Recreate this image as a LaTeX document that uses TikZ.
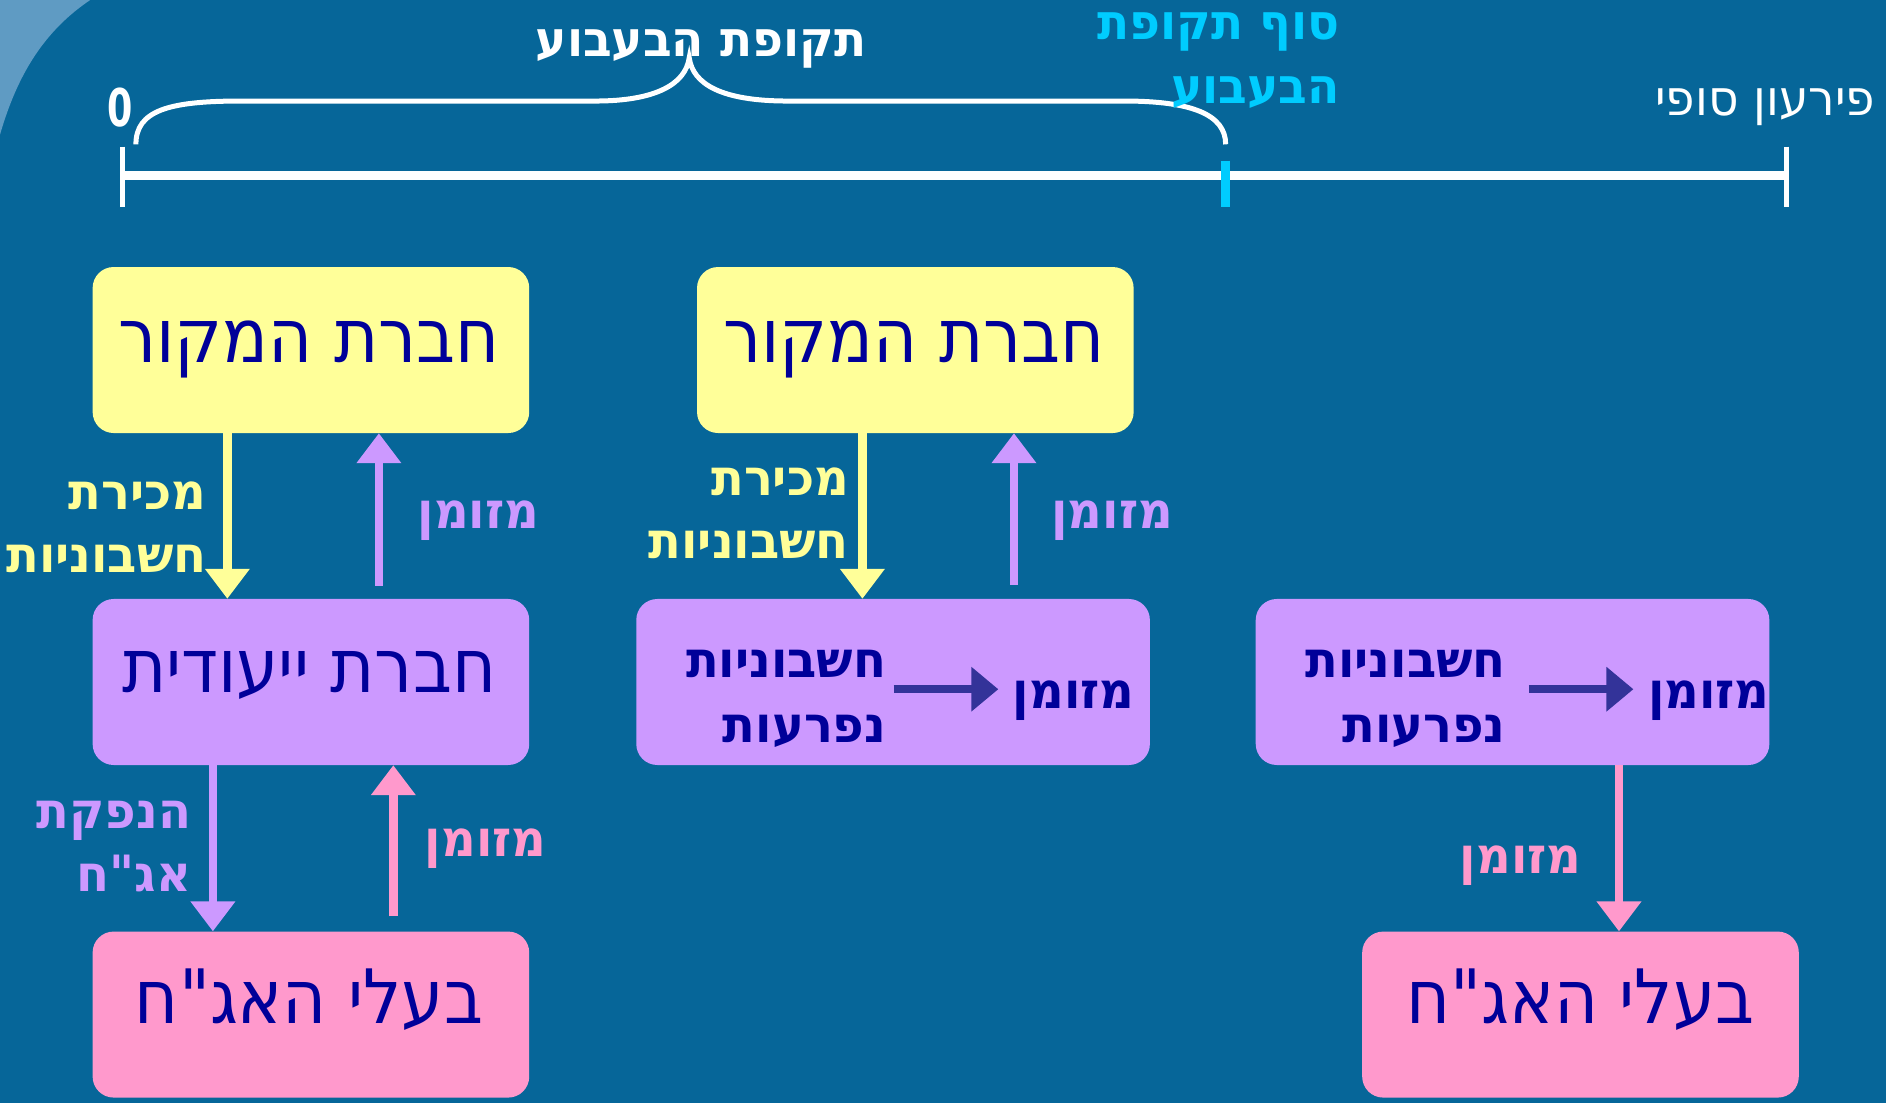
\documentclass[tikz,border=0pt]{standalone}
\usepackage{fontspec}
\usetikzlibrary{arrows.meta,calc}
\TeXXeTstate=1
\newfontfamily\heb[Script=Hebrew,FakeStretch=0.9]{DejaVu Sans}
\newfontfamily\hebl[Script=Hebrew,FakeStretch=0.96]{DejaVu Sans}
\newfontfamily\hebz[Script=Hebrew,FakeStretch=0.7]{DejaVu Sans}
\newcommand\hebtxt[1]{\beginR #1\endR}
\definecolor{bgblue}{RGB}{6,102,153}
\definecolor{bglight}{RGB}{95,155,195}
\definecolor{ybox}{RGB}{255,255,153}
\definecolor{pbox}{RGB}{204,153,255}
\definecolor{kbox}{RGB}{255,153,204}
\definecolor{navy}{RGB}{0,0,153}
\definecolor{darrow}{RGB}{51,51,153}
\definecolor{cyantxt}{RGB}{0,204,255}
\tikzset{
  boxbase/.style={rounded corners=21pt, minimum height=166pt, inner sep=0pt},
  ysq/.style={boxbase, fill=ybox, minimum width=436.6pt},
  psq/.style={boxbase, fill=pbox, minimum width=436.6pt},
  pwide/.style={boxbase, fill=pbox, minimum width=513.6pt},
  ksq/.style={boxbase, fill=kbox, minimum width=436.6pt},
  bigtxt/.style={inner sep=0pt, anchor=base, text=navy, font=\heb\fontsize{75}{84}\selectfont},
  lab/.style={inner sep=0pt, font=\hebl\bfseries\fontsize{50}{58}\selectfont},
  labR/.style={lab, anchor=base east},
  labL/.style={lab, anchor=base west},
  toptxt/.style={inner sep=0pt, font=\hebl\bfseries\fontsize{49}{56}\selectfont},
  bigarrow/.style={line width=8.5pt, -{Triangle[width=43pt,length=30pt]}},
  inarrow/.style={line width=8.5pt, darrow, -{Triangle[width=43pt,length=27pt]}},
}
\begin{document}
\begin{tikzpicture}[x=1.2028pt,y=-1.2028pt]
% background
\fill[bgblue] (0,0) rectangle (1568,917);
\useasboundingbox (0,0) rectangle (1568,917);
\fill[bglight] (0,0) -- (0,112) .. controls (15,60) and (38,25) .. (75,0) -- cycle;

% timeline
\coordinate (t0) at (102,146);
\coordinate (t1) at (1019,146);
\coordinate (t2) at (1485,146);
\draw[white, line width=8.5pt] (t0) -- (t2);
\draw[white, line width=5pt] ([yshift=29pt]t0) -- ([yshift=-31pt]t0);
\draw[white, line width=5pt] ([yshift=29pt]t2) -- ([yshift=-31pt]t2);
\draw[cyantxt, line width=9pt] ([yshift=15pt]t1) -- ([yshift=-31pt]t1);
% brace
\draw[white, line width=5pt] (113,120) .. controls (113,92) and (140,84) .. (200,84) -- (495,84) .. controls (545,84) and (570,70) .. (573,48) .. controls (576,70) and (600,84) .. (655,84) -- (935,84) .. controls (990,84) and (1019,95) .. (1019,120);
\node[toptxt, text=white, anchor=base] (period) at (583,47) {\hebtxt{תקופת הבעבוע}};
\node[inner sep=0pt, anchor=base, text=white, font=\hebz\bfseries\fontsize{52}{56}\selectfont] (zero) at (100,105) {0};
\node[toptxt, text=cyantxt, anchor=base east] (endp1) at (1114,33) {\hebtxt{סוף תקופת}};
\node[toptxt, text=cyantxt, anchor=base east] (endp2) at (1114,86) {\hebtxt{הבעבוע}};
\node[inner sep=0pt, text=white, anchor=base east, font=\hebl\fontsize{49}{56}\selectfont] (final) at (1559,96) {\hebtxt{פירעון סופי}};

% boxes
\node[ysq] (src1) at (258.5,291) {};
\node[psq] (spv1) at (258.5,567) {};
\node[ksq] (bond1) at (258.5,843.5) {};
\node[ysq] (src2) at (761,291) {};
\node[pwide] (spv2) at (742.5,567) {};
\node[pwide] (spv3) at (1257.5,567) {};
\node[ksq] (bond3) at (1314,843.5) {};

\node[bigtxt] (src1t) at (257,301) {\hebtxt{חברת המקור}};
\node[bigtxt] (src2t) at (760,301) {\hebtxt{חברת המקור}};
\node[bigtxt] (spv1t) at (257,576) {\hebtxt{חברת ייעודית}};
\node[bigtxt] (bond1t) at (257,851) {\hebtxt{בעלי האג"ח}};
\node[bigtxt] (bond3t) at (1314,851) {\hebtxt{בעלי האג"ח}};

% inside purple boxes
\node[labR, text=navy] (inv2a) at (737,563) {\hebtxt{חשבוניות}};
\node[labR, text=navy] (inv2b) at (737,617) {\hebtxt{נפרעות}};
\node[labL, text=navy] (cash2) at (842,589) {\hebtxt{מזומן}};
\coordinate (a2s) at (743,573);
\coordinate (a2e) at (830,573);
\draw[inarrow] (a2s) -- (a2e);
\node[labR, text=navy] (inv3a) at (1252,563) {\hebtxt{חשבוניות}};
\node[labR, text=navy] (inv3b) at (1252,617) {\hebtxt{נפרעות}};
\node[labL, text=navy] (cash3) at (1370,589) {\hebtxt{מזומן}};
\coordinate (a3s) at (1271,573);
\coordinate (a3e) at (1358,573);
\draw[inarrow] (a3s) -- (a3e);

% arrows left column
\coordinate (x1) at (189,0);
\coordinate (x2) at (315,0);
\coordinate (x3) at (177,0);
\coordinate (x4) at (327,0);
\draw[bigarrow, ybox] (src1.south -| x1) -- (spv1.north -| x1);
\draw[bigarrow, pbox] ([yshift=13pt]spv1.north -| x2) -- (src1.south -| x2);
\draw[bigarrow, pbox] (spv1.south -| x3) -- (bond1.north -| x3);
\draw[bigarrow, kbox] ([yshift=15pt]bond1.north -| x4) -- (spv1.south -| x4);

\node[labR, text=ybox] (sale1a) at (172,424) {\hebtxt{מכירת}};
\node[labR, text=ybox] (sale1b) at (172,476) {\hebtxt{חשבוניות}};
\node[labL, text=pbox] (cash1) at (347,439) {\hebtxt{מזומן}};
\node[labR, text=pbox] (iss1a) at (159,689) {\hebtxt{הנפקת}};
\node[labR, text=pbox] (iss1b) at (159,741) {\hebtxt{אג"ח}};
\node[labL, text=kbox] (cash1b) at (353,712) {\hebtxt{מזומן}};

% arrows middle column
\coordinate (x5) at (717,0);
\coordinate (x6) at (843,0);
\draw[bigarrow, ybox] (src2.south -| x5) -- (spv2.north -| x5);
\draw[bigarrow, pbox] ([yshift=14pt]spv2.north -| x6) -- (src2.south -| x6);
\node[labR, text=ybox] (sale2a) at (706,412) {\hebtxt{מכירת}};
\node[labR, text=ybox] (sale2b) at (706,464) {\hebtxt{חשבוניות}};
\node[labL, text=pbox] (cash2u) at (874,439) {\hebtxt{מזומן}};

% arrow right column
\coordinate (x7) at (1346,0);
\draw[bigarrow, kbox] (spv3.south -| x7) -- (bond3.north -| x7);
\node[labR, text=kbox] (cash3d) at (1315,726) {\hebtxt{מזומן}};
\end{tikzpicture}
\end{document}
